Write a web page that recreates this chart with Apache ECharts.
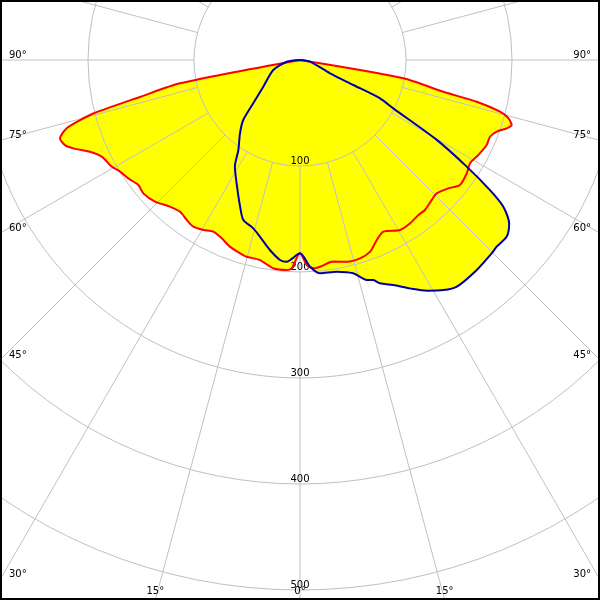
<!DOCTYPE html>
<html>
<head>
<meta charset="utf-8">
<script src="https://cdn.jsdelivr.net/npm/echarts@6/dist/echarts.min.js"></script>
<style>
html,body{margin:0;padding:0;background:#fff}
#c{width:600px;height:600px}
</style>
</head>
<body>
<div id="c"></div>
<script>
// C0-C180 plane (red) : angle in degrees (0 = straight down, + = right), intensity value
const redAngles = [-90, -79.0, -77.0, -75.5, -74.7, -73.7, -71.9, -70.1, -68.7, -66.4, -64.0, -60.5, -58.2, -55.4, -52.3, -49.6, -45.7, -41.6, -38.3, -35.3, -32.6, -29.6, -26.8, -23.7, -20.6, -17.2, -15.2, -11.3, -7.3, -3.6, -2.3, 0, 1.9, 3.7, 5.5, 9.4, 13.0, 16.8, 20.1, 23.1, 25.9, 30.5, 34.0, 37.4, 39.8, 43.3, 45.7, 49.1, 52.0, 55.8, 58.7, 61.9, 65.5, 68.0, 70.0, 71.7, 72.9, 74.4, 75.5, 76.7, 77.5, 80.0, 90];
const redValues = [0, 115.3, 154.9, 201.4, 215.1, 229.3, 238.2, 235.8, 229.5, 216.2, 208.1, 204.2, 199.8, 196.7, 192.8, 194.1, 191.2, 184.9, 182.5, 184.9, 186.7, 184.5, 181.4, 183.7, 188.1, 190.9, 192.3, 192.5, 198.1, 198.5, 196.7, 182.4, 193.5, 196.9, 195.9, 192.8, 195.3, 195.5, 192.5, 184.6, 180.0, 186.1, 185.8, 184.0, 184.2, 181.3, 180.1, 185.0, 191.5, 190.2, 187.7, 190.6, 193.5, 193.3, 197.5, 205.4, 208.9, 204.1, 194.9, 171.3, 138.5, 99.0, 0];
// C90-C270 plane (blue)
const blueAngles = [-90, -82.7, -69.5, -54.0, -47.2, -43.4, -39.3, -34.4, -31.4, -27.2, -22.2, -19.5, -15.5, -12.8, -9.0, -5.7, -3.8, 0, 2.8, 5.4, 9.8, 14.0, 16.9, 18.4, 19.7, 22.5, 25.7, 28.8, 31.9, 34.7, 40.1, 44.8, 46.5, 49.5, 52.0, 54.2, 55.6, 57.4, 59.7, 62.6, 64.4, 64.9, 66.1, 80.4, 90];
const blueValues = [0, 12.6, 26.9, 42.8, 60.1, 77.9, 89.4, 102.9, 117.9, 130.8, 149.5, 160.1, 164.8, 170.9, 181.5, 189.6, 190.7, 182.4, 195.2, 202.1, 202.7, 207.4, 216.9, 218.8, 223.8, 229.8, 239.1, 248.3, 255.7, 260.0, 258.9, 256.8, 255.8, 256.5, 250.4, 236.5, 217.2, 186.7, 149.4, 99.1, 83.7, 55.6, 31.0, 9.6, 0];

const radiusTickLabels = [100, 200, 300, 400, 500];
const sideAngleLabels = [90, 75, 60, 45, 30];
const bottomAngleLabels = [15, 0];

const W = 600, H = 600;
const CX = 300, CY = 60;
const PX_PER_UNIT = 1.06;
const RMAX = 500;
const GRID_MAX = 800;
const FONT = 'DejaVu Sans';
const SMOOTH = 0.25;

function pairs(angles, values) {
  return angles.map((a, i) => [values[i], a]);
}
const redData = pairs(redAngles, redValues);
const blueData = pairs(blueAngles, blueValues);

// angle labels placed where the spokes leave the picture
const graphics = [];
sideAngleLabels.forEach(a => {
  const y = a === 90 ? CY : CY + (W / 2) / Math.tan(a * Math.PI / 180);
  graphics.push({type: 'text', x: 9, y: y, style: {text: a + '°', font: '10px ' + FONT, fill: '#000', textAlign: 'left', textVerticalAlign: 'bottom'}, z: 10});
  graphics.push({type: 'text', x: W - 9, y: y, style: {text: a + '°', font: '10px ' + FONT, fill: '#000', textAlign: 'right', textVerticalAlign: 'bottom'}, z: 10});
});
bottomAngleLabels.forEach(a => {
  const dx = (H - CY) * Math.tan(a * Math.PI / 180);
  const xs = a === 0 ? [CX] : [CX - dx, CX + dx];
  xs.forEach(x => graphics.push({type: 'text', x: x, y: H - 4, style: {text: a + '°', font: '10px ' + FONT, fill: '#000', textAlign: 'center', textVerticalAlign: 'bottom'}, z: 10}));
});
graphics.push({type: 'rect', shape: {x: 1, y: 1, width: W - 2, height: H - 2}, style: {fill: null, stroke: '#000', lineWidth: 2}, z: 20});

const chart = echarts.init(document.getElementById('c'), null, {renderer: 'canvas'});
chart.setOption({
  animation: false,
  backgroundColor: '#fff',
  polar: [
    {center: [CX, CY], radius: [0, RMAX * PX_PER_UNIT]},
    {center: [CX, CY], radius: [100 * PX_PER_UNIT, GRID_MAX * PX_PER_UNIT]}
  ],
  angleAxis: [
    {polarIndex: 0, type: 'value', min: -180, max: 180, startAngle: 90, clockwise: false, show: false},
    {polarIndex: 1, type: 'value', min: 0, max: 360, interval: 15, startAngle: 270, clockwise: false, z: 2,
     axisLine: {show: false}, axisTick: {show: false}, axisLabel: {show: false},
     splitLine: {show: true, lineStyle: {color: '#c0c0c0', width: 1}}}
  ],
  radiusAxis: [
    {polarIndex: 0, type: 'value', min: 0, max: RMAX, show: false},
    {polarIndex: 1, type: 'value', min: 100, max: GRID_MAX, interval: 100, z: 2,
     axisLine: {show: false}, axisTick: {show: false},
     axisLabel: {show: true, margin: 0, align: 'center', verticalAlign: 'bottom', color: '#000', fontFamily: FONT, fontSize: 10,
       formatter: v => radiusTickLabels.indexOf(v) >= 0 ? String(v) : ''},
     splitLine: {show: true, lineStyle: {color: '#c0c0c0', width: 1}}}
  ],
  graphic: graphics,
  series: [
    {type: 'line', coordinateSystem: 'polar', polarIndex: 0, data: redData, symbol: 'none', silent: true, z: 1, smooth: SMOOTH,
     lineStyle: {width: 0, opacity: 0}, areaStyle: {color: '#ffff00', opacity: 1}},
    {type: 'line', coordinateSystem: 'polar', polarIndex: 0, data: blueData, symbol: 'none', silent: true, z: 1, smooth: SMOOTH,
     lineStyle: {width: 0, opacity: 0}, areaStyle: {color: '#ffff00', opacity: 1}},
    {type: 'line', coordinateSystem: 'polar', polarIndex: 0, data: redData, symbol: 'none', silent: true, z: 3, smooth: SMOOTH,
     lineStyle: {color: '#ff0000', width: 2}},
    {type: 'line', coordinateSystem: 'polar', polarIndex: 0, data: blueData, symbol: 'none', silent: true, z: 4, smooth: SMOOTH,
     lineStyle: {color: '#0000a8', width: 2}}
  ]
});
</script>
</body>
</html>
